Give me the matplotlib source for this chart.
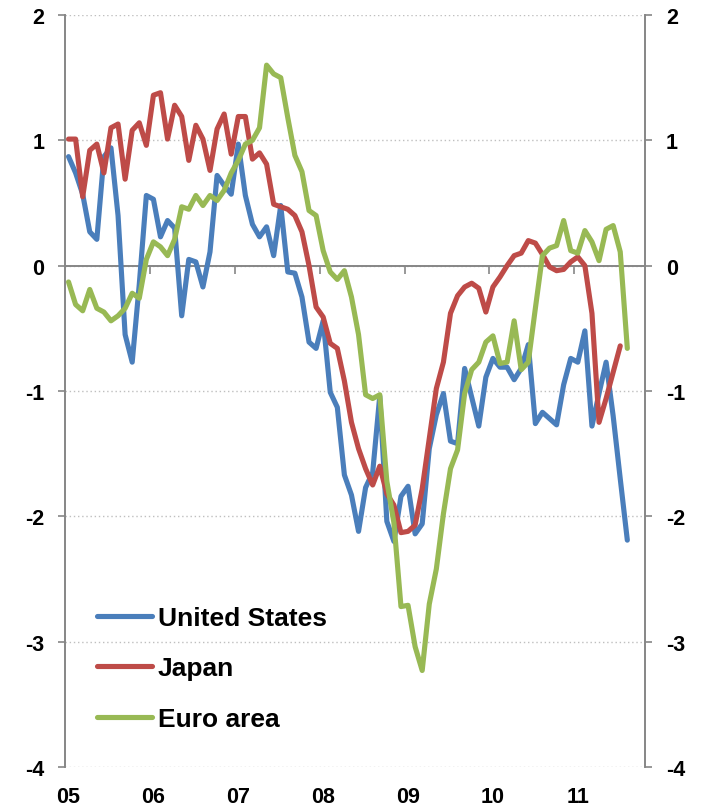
import matplotlib.pyplot as plt

plt.rcParams['font.family'] = ['Liberation Sans', 'DejaVu Sans']
plt.rcParams['font.weight'] = 'bold'

years = ['05', '06', '07', '08', '09', '10', '11']
n_months = 82  # Jan 2005 .. Oct 2011

united_states = [
    0.87, 0.74, 0.57, 0.27, 0.21, 0.87, 0.94, 0.40, -0.55, -0.77, -0.15, 0.56,
    0.53, 0.23, 0.36, 0.30, -0.40, 0.05, 0.03, -0.17, 0.11, 0.72, 0.64, 0.57,
    0.97, 0.56, 0.33, 0.23, 0.31, 0.08, 0.48, -0.05, -0.06, -0.25, -0.61, -0.66,
    -0.44, -1.01, -1.13, -1.67, -1.83, -2.12, -1.77, -1.65, -1.04, -2.04, -2.20, -1.84,
    -1.76, -2.14, -2.06, -1.46, -1.19, -1.02, -1.40, -1.42, -0.82, -1.05, -1.28, -0.89,
    -0.74, -0.81, -0.81, -0.91, -0.82, -0.63, -1.26, -1.17, -1.22, -1.27, -0.95, -0.74,
    -0.77, -0.52, -1.28, -1.02, -0.77, -1.20, -1.70, -2.19,
]

japan = [
    1.01, 1.01, 0.55, 0.92, 0.97, 0.74, 1.10, 1.13, 0.69, 1.08, 1.14, 0.96,
    1.36, 1.38, 1.01, 1.28, 1.19, 0.84, 1.12, 1.01, 0.76, 1.09, 1.21, 0.89,
    1.19, 1.19, 0.85, 0.90, 0.81, 0.49, 0.47, 0.45, 0.40, 0.27, 0.00, -0.33,
    -0.41, -0.62, -0.66, -0.92, -1.25, -1.46, -1.62, -1.75, -1.60, -1.82, -1.91, -2.13,
    -2.12, -2.07, -1.78, -1.38, -0.98, -0.77, -0.38, -0.24, -0.17, -0.14, -0.18, -0.37,
    -0.17, -0.09, 0.00, 0.08, 0.10, 0.20, 0.18, 0.09, -0.01, -0.04, -0.03, 0.03,
    0.07, 0.00, -0.38, -1.25, -1.06, -0.85, -0.64,
]

euro_area = [
    -0.13, -0.31, -0.36, -0.19, -0.34, -0.37, -0.44, -0.40, -0.34, -0.22, -0.26, 0.05,
    0.19, 0.15, 0.08, 0.21, 0.47, 0.45, 0.56, 0.48, 0.56, 0.52, 0.60, 0.74,
    0.84, 0.97, 1.00, 1.10, 1.60, 1.53, 1.50, 1.18, 0.88, 0.75, 0.44, 0.40,
    0.12, -0.05, -0.11, -0.04, -0.25, -0.55, -1.03, -1.06, -1.03, -1.72, -2.05, -2.72,
    -2.71, -3.04, -3.23, -2.70, -2.42, -1.98, -1.62, -1.47, -1.02, -0.83, -0.77, -0.61,
    -0.56, -0.78, -0.77, -0.44, -0.83, -0.77, -0.34, 0.08, 0.14, 0.16, 0.36, 0.12,
    0.10, 0.28, 0.19, 0.04, 0.29, 0.32, 0.11, -0.66,
]

series = [
    ('United States', united_states, '#4A7EBB'),
    ('Japan', japan, '#BE4B48'),
    ('Euro area', euro_area, '#98B954'),
]

fig = plt.figure(figsize=(7.02, 8.12), dpi=100)
ax = fig.add_axes([65 / 702, 1 - 768 / 812, 580 / 702, 752 / 812])

for name, values, color in series:
    ax.plot(range(len(values)), values, color=color, lw=3.7, label=name,
            solid_joinstyle='round', solid_capstyle='round')

ax.set_xlim(-0.5, n_months - 0.5)
ax.set_ylim(-4, 2)
ax.set_yticks(range(-4, 3))
ax.set_yticklabels([str(v) for v in range(-4, 3)])
ax.yaxis.grid(True, color='#BFBFBF', linestyle=(0, (1, 2)), lw=1)
ax.set_axisbelow(True)

grey = '#868686'
ax.spines['top'].set_visible(False)
for side in ['left', 'right', 'bottom']:
    ax.spines[side].set_color(grey)
    ax.spines[side].set_linewidth(1.4)
ax.spines['bottom'].set_position(('data', 0))
ax.spines['bottom'].set_zorder(1)

ax.tick_params(axis='y', direction='out', length=5, width=1.2, color=grey,
               labelsize=15.5, pad=10, right=True, labelright=True)
ax.set_xticks([12 * k - 0.5 for k in range(1, 7)])
ax.tick_params(axis='x', direction='out', length=6, width=1.2, color=grey,
               labelbottom=False)

sec = ax.secondary_xaxis('bottom')
sec.set_xticks([12 * k for k in range(len(years))])
sec.set_xticklabels(years)
sec.tick_params(length=0, labelsize=15.5, pad=14)
sec.spines['bottom'].set_visible(False)

leg = ax.legend(loc='upper left', bbox_to_anchor=(97 / 702, 1 - 607 / 812),
                bbox_transform=fig.transFigure, frameon=False,
                prop={'size': 19, 'weight': 'bold'}, handlelength=2.1,
                handletextpad=0.2, labelspacing=1.0, borderpad=0,
                borderaxespad=0)

plt.savefig('out.png', dpi=100)
